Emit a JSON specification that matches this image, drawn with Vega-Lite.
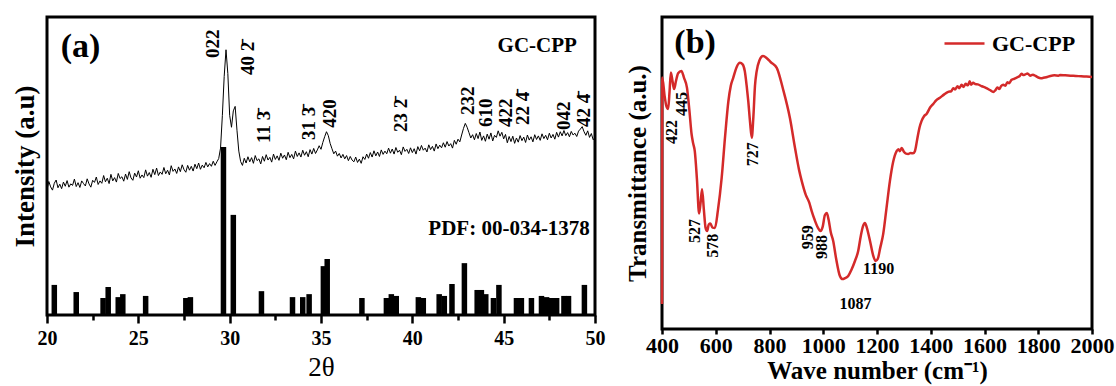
{
  "$schema": "https://vega.github.io/schema/vega-lite/v6.json",
  "padding": {"left": 9, "top": 15, "right": 0, "bottom": 0},
  "config": {
    "font": "Liberation Serif",
    "view": {"stroke": "black", "strokeWidth": 3},
    "axis": {"grid": false, "domain": false, "labelColor": "black", "titleColor": "black", "tickColor": "black", "labelFont": "Liberation Serif", "titleFont": "Liberation Serif"},
    "text": {"font": "Liberation Serif", "fontWeight": "bold", "color": "black"}
  },
  "datasets": {
    "xrd": [
      {"x":20.0,"y":42.1},{"x":20.1,"y":44.8},{"x":20.2,"y":43.0},{"x":20.3,"y":41.9},{"x":20.4,"y":44.2},{"x":20.5,"y":45.3},{"x":20.6,"y":42.7},{"x":20.7,"y":43.9},{"x":20.8,"y":42.4},{"x":20.9,"y":44.6},
      {"x":21.0,"y":43.2},{"x":21.1,"y":45.1},{"x":21.2,"y":42.9},{"x":21.3,"y":44.0},{"x":21.4,"y":43.5},{"x":21.5,"y":45.6},{"x":21.6,"y":43.1},{"x":21.7,"y":44.4},{"x":21.8,"y":42.8},{"x":21.9,"y":45.0},
      {"x":22.0,"y":44.1},{"x":22.1,"y":43.3},{"x":22.2,"y":45.7},{"x":22.3,"y":44.0},{"x":22.4,"y":42.9},{"x":22.5,"y":45.2},{"x":22.6,"y":44.5},{"x":22.7,"y":46.3},{"x":22.8,"y":43.8},{"x":22.9,"y":45.0},
      {"x":23.0,"y":44.2},{"x":23.1,"y":46.8},{"x":23.2,"y":44.7},{"x":23.3,"y":45.9},{"x":23.4,"y":44.1},{"x":23.5,"y":47.2},{"x":23.6,"y":45.0},{"x":23.7,"y":46.1},{"x":23.8,"y":44.6},{"x":23.9,"y":47.5},
      {"x":24.0,"y":45.8},{"x":24.1,"y":46.4},{"x":24.2,"y":44.9},{"x":24.3,"y":47.3},{"x":24.4,"y":45.5},{"x":24.5,"y":48.1},{"x":24.6,"y":46.0},{"x":24.7,"y":45.2},{"x":24.8,"y":47.6},{"x":24.9,"y":46.3},
      {"x":25.0,"y":48.4},{"x":25.1,"y":45.9},{"x":25.2,"y":47.0},{"x":25.3,"y":46.1},{"x":25.4,"y":48.7},{"x":25.5,"y":46.6},{"x":25.6,"y":47.8},{"x":25.7,"y":46.2},{"x":25.8,"y":48.9},{"x":25.9,"y":47.1},
      {"x":26.0,"y":49.3},{"x":26.1,"y":46.8},{"x":26.2,"y":48.0},{"x":26.3,"y":47.2},{"x":26.4,"y":49.5},{"x":26.5,"y":47.4},{"x":26.6,"y":48.6},{"x":26.7,"y":47.0},{"x":26.8,"y":50.1},{"x":26.9,"y":48.2},
      {"x":27.0,"y":49.0},{"x":27.1,"y":47.5},{"x":27.2,"y":49.7},{"x":27.3,"y":48.1},{"x":27.4,"y":50.4},{"x":27.5,"y":48.8},{"x":27.6,"y":47.9},{"x":27.7,"y":50.2},{"x":27.8,"y":48.6},{"x":27.9,"y":49.9},
      {"x":28.0,"y":48.3},{"x":28.1,"y":50.6},{"x":28.2,"y":49.1},{"x":28.3,"y":51.0},{"x":28.4,"y":48.9},{"x":28.5,"y":50.3},{"x":28.6,"y":49.4},{"x":28.7,"y":51.2},{"x":28.8,"y":49.7},{"x":28.9,"y":50.8},
      {"x":29.0,"y":49.9},{"x":29.1,"y":51.6},{"x":29.2,"y":50.2},{"x":29.3,"y":51.4},{"x":29.4,"y":52.5},{"x":29.5,"y":56.0},{"x":29.6,"y":67.0},{"x":29.7,"y":80.0},{"x":29.8,"y":89.0},{"x":29.9,"y":81.0},
      {"x":30.0,"y":67.0},{"x":30.1,"y":63.0},{"x":30.2,"y":68.5},{"x":30.3,"y":70.0},{"x":30.4,"y":62.0},{"x":30.5,"y":55.0},{"x":30.6,"y":51.5},{"x":30.7,"y":50.2},{"x":30.8,"y":52.6},{"x":30.9,"y":51.0},
      {"x":31.0,"y":53.1},{"x":31.1,"y":51.4},{"x":31.2,"y":52.8},{"x":31.3,"y":50.9},{"x":31.4,"y":53.5},{"x":31.5,"y":51.8},{"x":31.6,"y":52.4},{"x":31.7,"y":50.7},{"x":31.8,"y":53.2},{"x":31.9,"y":51.6},
      {"x":32.0,"y":53.8},{"x":32.1,"y":52.0},{"x":32.2,"y":52.9},{"x":32.3,"y":51.3},{"x":32.4,"y":54.0},{"x":32.5,"y":52.2},{"x":32.6,"y":53.4},{"x":32.7,"y":51.9},{"x":32.8,"y":54.3},{"x":32.9,"y":52.6},
      {"x":33.0,"y":53.7},{"x":33.1,"y":52.1},{"x":33.2,"y":54.6},{"x":33.3,"y":52.8},{"x":33.4,"y":53.9},{"x":33.5,"y":52.4},{"x":33.6,"y":55.0},{"x":33.7,"y":53.2},{"x":33.8,"y":54.4},{"x":33.9,"y":53.0},
      {"x":34.0,"y":55.3},{"x":34.1,"y":53.6},{"x":34.2,"y":54.8},{"x":34.3,"y":53.1},{"x":34.4,"y":55.5},{"x":34.5,"y":54.0},{"x":34.6,"y":55.9},{"x":34.7,"y":54.2},{"x":34.8,"y":55.4},{"x":34.9,"y":56.8},
      {"x":35.0,"y":55.6},{"x":35.1,"y":57.9},{"x":35.2,"y":59.8},{"x":35.3,"y":61.5},{"x":35.4,"y":60.2},{"x":35.5,"y":57.6},{"x":35.6,"y":55.8},{"x":35.7,"y":54.1},{"x":35.8,"y":55.0},{"x":35.9,"y":53.3},
      {"x":36.0,"y":54.2},{"x":36.1,"y":52.7},{"x":36.2,"y":53.9},{"x":36.3,"y":52.4},{"x":36.4,"y":53.5},{"x":36.5,"y":51.8},{"x":36.6,"y":53.2},{"x":36.7,"y":52.0},{"x":36.8,"y":51.4},{"x":36.9,"y":53.0},
      {"x":37.0,"y":51.2},{"x":37.1,"y":52.3},{"x":37.2,"y":50.9},{"x":37.3,"y":53.1},{"x":37.4,"y":52.2},{"x":37.5,"y":54.0},{"x":37.6,"y":52.6},{"x":37.7,"y":54.5},{"x":37.8,"y":53.0},{"x":37.9,"y":55.1},
      {"x":38.0,"y":53.4},{"x":38.1,"y":54.7},{"x":38.2,"y":53.2},{"x":38.3,"y":55.4},{"x":38.4,"y":53.9},{"x":38.5,"y":55.0},{"x":38.6,"y":54.1},{"x":38.7,"y":56.0},{"x":38.8,"y":54.3},{"x":38.9,"y":55.7},
      {"x":39.0,"y":54.0},{"x":39.1,"y":56.2},{"x":39.2,"y":54.6},{"x":39.3,"y":55.3},{"x":39.4,"y":53.8},{"x":39.5,"y":56.4},{"x":39.6,"y":54.9},{"x":39.7,"y":55.6},{"x":39.8,"y":54.2},{"x":39.9,"y":56.1},
      {"x":40.0,"y":54.5},{"x":40.1,"y":55.8},{"x":40.2,"y":54.0},{"x":40.3,"y":56.5},{"x":40.4,"y":55.1},{"x":40.5,"y":56.9},{"x":40.6,"y":55.3},{"x":40.7,"y":56.0},{"x":40.8,"y":54.7},{"x":40.9,"y":57.1},
      {"x":41.0,"y":55.5},{"x":41.1,"y":56.6},{"x":41.2,"y":55.0},{"x":41.3,"y":57.4},{"x":41.4,"y":55.8},{"x":41.5,"y":57.0},{"x":41.6,"y":56.1},{"x":41.7,"y":57.8},{"x":41.8,"y":56.3},{"x":41.9,"y":58.2},
      {"x":42.0,"y":56.7},{"x":42.1,"y":57.5},{"x":42.2,"y":56.0},{"x":42.3,"y":58.6},{"x":42.4,"y":57.3},{"x":42.5,"y":59.0},{"x":42.6,"y":58.1},{"x":42.7,"y":60.4},{"x":42.8,"y":62.6},{"x":42.9,"y":64.3},
      {"x":43.0,"y":63.0},{"x":43.1,"y":61.2},{"x":43.2,"y":59.4},{"x":43.3,"y":60.5},{"x":43.4,"y":58.8},{"x":43.5,"y":60.9},{"x":43.6,"y":59.2},{"x":43.7,"y":61.4},{"x":43.8,"y":58.6},{"x":43.9,"y":60.1},
      {"x":44.0,"y":58.3},{"x":44.1,"y":60.7},{"x":44.2,"y":59.0},{"x":44.3,"y":61.1},{"x":44.4,"y":58.4},{"x":44.5,"y":60.3},{"x":44.6,"y":59.6},{"x":44.7,"y":61.8},{"x":44.8,"y":60.0},{"x":44.9,"y":61.3},
      {"x":45.0,"y":59.1},{"x":45.1,"y":60.6},{"x":45.2,"y":57.8},{"x":45.3,"y":59.9},{"x":45.4,"y":58.2},{"x":45.5,"y":60.0},{"x":45.6,"y":57.6},{"x":45.7,"y":59.4},{"x":45.8,"y":58.0},{"x":45.9,"y":60.2},
      {"x":46.0,"y":58.5},{"x":46.1,"y":59.7},{"x":46.2,"y":57.9},{"x":46.3,"y":60.4},{"x":46.4,"y":58.7},{"x":46.5,"y":59.8},{"x":46.6,"y":58.1},{"x":46.7,"y":60.5},{"x":46.8,"y":58.9},{"x":46.9,"y":60.1},
      {"x":47.0,"y":58.6},{"x":47.1,"y":60.8},{"x":47.2,"y":59.2},{"x":47.3,"y":60.3},{"x":47.4,"y":58.8},{"x":47.5,"y":61.0},{"x":47.6,"y":59.4},{"x":47.7,"y":60.6},{"x":47.8,"y":59.0},{"x":47.9,"y":61.3},
      {"x":48.0,"y":59.7},{"x":48.1,"y":61.5},{"x":48.2,"y":60.1},{"x":48.3,"y":61.9},{"x":48.4,"y":60.2},{"x":48.5,"y":61.2},{"x":48.6,"y":59.8},{"x":48.7,"y":61.6},{"x":48.8,"y":60.4},{"x":48.9,"y":61.0},
      {"x":49.0,"y":59.9},{"x":49.1,"y":61.7},{"x":49.2,"y":62.4},{"x":49.3,"y":63.2},{"x":49.4,"y":61.5},{"x":49.5,"y":60.3},{"x":49.6,"y":61.8},{"x":49.7,"y":59.6},{"x":49.8,"y":60.9},{"x":49.9,"y":58.8},
      {"x":50.0,"y":59.5}
    ],
    "pdf": [
      {"x":20.4,"y":10.1},{"x":21.6,"y":7.7},{"x":23.07,"y":5.7},{"x":23.35,"y":9.4},{"x":23.9,"y":6.0},{"x":24.15,"y":7.0},{"x":25.4,"y":6.4},{"x":27.6,"y":5.7},{"x":27.85,"y":6.0},{"x":29.66,"y":56.4},{"x":30.2,"y":33.6},{"x":31.74,"y":8.0},{"x":33.44,"y":6.0},{"x":34.0,"y":6.0},{"x":34.35,"y":7.0},{"x":35.13,"y":16.4},{"x":35.34,"y":18.8},{"x":37.24,"y":5.7},{"x":38.58,"y":5.7},{"x":38.85,"y":7.0},{"x":39.12,"y":6.4},{"x":40.33,"y":6.0},{"x":40.6,"y":5.7},{"x":41.47,"y":7.0},{"x":41.75,"y":6.4},{"x":42.17,"y":10.4},{"x":42.85,"y":17.4},{"x":43.55,"y":8.4},{"x":43.78,"y":8.4},{"x":44.02,"y":7.0},{"x":44.44,"y":5.7},{"x":44.74,"y":10.1},{"x":45.7,"y":5.7},{"x":45.97,"y":5.7},{"x":46.52,"y":5.7},{"x":47.07,"y":6.4},{"x":47.35,"y":6.0},{"x":47.62,"y":5.7},{"x":47.9,"y":5.7},{"x":48.3,"y":6.4},{"x":48.55,"y":6.4},{"x":49.42,"y":10.1}
    ],
    "hkl": [
      {"x":29.09,"y":86.2,"label":"022"},
      {"x":31.0,"y":80.5,"label":"40 2̄"},
      {"x":31.88,"y":57.7,"label":"11 3̄"},
      {"x":34.34,"y":58.7,"label":"31 3̄"},
      {"x":35.49,"y":62.8,"label":"420"},
      {"x":39.38,"y":61.4,"label":"23 2̄"},
      {"x":43.04,"y":67.1,"label":"232"},
      {"x":44.03,"y":63.1,"label":"610"},
      {"x":45.12,"y":63.1,"label":"422"},
      {"x":46.05,"y":63.8,"label":"22 4̄"},
      {"x":48.3,"y":62.1,"label":"042"},
      {"x":49.39,"y":63.1,"label":"42 4̄"}
    ],
    "ftir": [
      {"x":400,"y":8},{"x":401,"y":80.6},{"x":410,"y":74.5},{"x":416,"y":71.5},{"x":423,"y":70.5},{"x":428,"y":76},{"x":433,"y":82.2},{"x":439,"y":79.5},{"x":445,"y":76.9},{"x":452,"y":79.5},{"x":460,"y":82},{"x":472,"y":82.7},{"x":482,"y":80.5},{"x":493,"y":77.3},{"x":502,"y":70},{"x":510,"y":62.5},{"x":516,"y":59.5},{"x":522,"y":57},{"x":530,"y":48},{"x":538,"y":37},{"x":543,"y":40},{"x":549,"y":44.8},{"x":556,"y":38},{"x":562,"y":32.5},{"x":568,"y":31.4},{"x":574,"y":33.5},{"x":580,"y":33.8},{"x":588,"y":32.5},{"x":597,"y":32.4},{"x":608,"y":38},{"x":622,"y":48.4},{"x":635,"y":62},{"x":647,"y":73},{"x":656,"y":78},{"x":665,"y":80.5},{"x":678,"y":84},{"x":690,"y":85.3},{"x":700,"y":84.8},{"x":708,"y":82.7},{"x":715,"y":78},{"x":721,"y":73},{"x":728,"y":66},{"x":734,"y":61.3},{"x":740,"y":68},{"x":746,"y":78},{"x":752,"y":82.5},{"x":762,"y":86},{"x":776,"y":87.5},{"x":790,"y":86.8},{"x":805,"y":85.5},{"x":827,"y":83.7},{"x":850,"y":77},{"x":876,"y":67.6},{"x":895,"y":58},{"x":910,"y":51},{"x":920,"y":47.4},{"x":935,"y":43},{"x":948,"y":40.5},{"x":957,"y":37.8},{"x":968,"y":35},{"x":980,"y":32.5},{"x":990,"y":31.4},{"x":998,"y":32.8},{"x":1006,"y":36.5},{"x":1013,"y":37.2},{"x":1020,"y":35},{"x":1028,"y":31},{"x":1037,"y":28.2},{"x":1048,"y":22.5},{"x":1062,"y":17},{"x":1072,"y":16},{"x":1081,"y":16.3},{"x":1093,"y":17},{"x":1105,"y":19},{"x":1118,"y":21.8},{"x":1130,"y":25},{"x":1140,"y":30},{"x":1148,"y":33},{"x":1155,"y":34},{"x":1162,"y":32.5},{"x":1174,"y":28.2},{"x":1186,"y":23.5},{"x":1195,"y":21.8},{"x":1203,"y":22.5},{"x":1212,"y":26},{"x":1223,"y":30.4},{"x":1235,"y":38.5},{"x":1248,"y":47.4},{"x":1260,"y":53.5},{"x":1273,"y":57},{"x":1280,"y":57.6},{"x":1285,"y":57},{"x":1292,"y":58},{"x":1300,"y":56.8},{"x":1308,"y":56.2},{"x":1316,"y":56.1},{"x":1325,"y":56.4},{"x":1334,"y":56.3},{"x":1341,"y":57},{"x":1350,"y":61},{"x":1358,"y":64.5},{"x":1366,"y":66.7},{"x":1375,"y":68.2},{"x":1385,"y":69},{"x":1397,"y":70.9},{"x":1410,"y":72.2},{"x":1420,"y":73.3},{"x":1434,"y":74.1},{"x":1450,"y":75.2},{"x":1465,"y":76},{"x":1476,"y":76.2},{"x":1484,"y":77.2},{"x":1490,"y":76.8},{"x":1500,"y":77.8},{"x":1506,"y":77.2},{"x":1515,"y":78.3},{"x":1522,"y":77.6},{"x":1530,"y":78.6},{"x":1538,"y":78.1},{"x":1545,"y":79.4},{"x":1550,"y":78.3},{"x":1558,"y":78.9},{"x":1565,"y":78.5},{"x":1575,"y":78.4},{"x":1590,"y":77.8},{"x":1605,"y":77.3},{"x":1620,"y":76.6},{"x":1633,"y":76},{"x":1640,"y":76.5},{"x":1648,"y":77.4},{"x":1655,"y":76.9},{"x":1662,"y":77.9},{"x":1670,"y":78.3},{"x":1678,"y":78},{"x":1685,"y":79.1},{"x":1692,"y":78.8},{"x":1700,"y":79.8},{"x":1710,"y":80.2},{"x":1720,"y":80.6},{"x":1730,"y":81},{"x":1738,"y":81.8},{"x":1744,"y":81.4},{"x":1752,"y":81.6},{"x":1760,"y":81.9},{"x":1770,"y":81.2},{"x":1780,"y":81.5},{"x":1790,"y":81.1},{"x":1800,"y":80.6},{"x":1810,"y":80.4},{"x":1819,"y":80.5},{"x":1830,"y":80.7},{"x":1845,"y":81.1},{"x":1860,"y":81.3},{"x":1875,"y":81.2},{"x":1881,"y":81.4},{"x":1900,"y":81.3},{"x":1920,"y":81.2},{"x":1940,"y":81.1},{"x":1960,"y":81},{"x":1980,"y":80.9},{"x":2000,"y":80.8}
    ],
    "ftirPeaks": [
      {"x":436,"y":59.3,"label":"422"},
      {"x":473,"y":68.3,"label":"445"},
      {"x":523,"y":27.6,"label":"527"},
      {"x":591,"y":22.8,"label":"578"},
      {"x":740,"y":52.2,"label":"727"},
      {"x":944,"y":25.6,"label":"959"},
      {"x":994,"y":22.4,"label":"988"}
    ],
    "ftirFlat": [
      {"x":1120,"y":6.4,"label":"1087"},
      {"x":1206,"y":17.6,"label":"1190"}
    ]
  },
  "hconcat": [
    {
      "width": 548,
      "height": 298,
      "encoding": {
        "x": {"field": "x", "type": "quantitative", "scale": {"domain": [20, 50], "nice": false, "zero": false, "padding": 0},
          "axis": {"title": "2θ", "titleFontSize": 27, "titleFontWeight": "normal", "titlePadding": 6,
            "values": [20, 22.5, 25, 27.5, 30, 32.5, 35, 37.5, 40, 42.5, 45, 47.5, 50],
            "labelExpr": "datum.value % 5 == 0 ? format(datum.value, 'd') : ''",
            "labelFontSize": 20, "labelFontWeight": "bold", "labelPadding": 5, "labelFlush": false,
            "tickWidth": 2.5, "tickSize": {"condition": {"test": "datum.value % 5 == 0", "value": 8}, "value": 5}}},
        "y": {"field": "y", "type": "quantitative", "scale": {"domain": [0, 100], "nice": false},
          "axis": {"title": "Intensity (a.u)", "titleFontSize": 27, "titleFontWeight": "bold", "titlePadding": 8, "labels": false, "ticks": false}}
      },
      "layer": [
        {"data": {"name": "xrd"}, "mark": {"type": "line", "color": "black", "strokeWidth": 1}},
        {"data": {"name": "pdf"}, "mark": {"type": "bar", "color": "black", "size": 5.5}},
        {"data": {"name": "hkl"}, "mark": {"type": "text", "angle": 270, "align": "left", "baseline": "middle", "fontSize": 19}, "encoding": {"text": {"field": "label"}}},
        {"data": {"values": [{"x": 20.75, "y": 86.6, "label": "(a)"}]}, "mark": {"type": "text", "align": "left", "baseline": "alphabetic", "fontSize": 34}, "encoding": {"text": {"field": "label"}}},
        {"data": {"values": [{"x": 49.01, "y": 88.3, "label": "GC-CPP"}, {"x": 49.72, "y": 26.8, "label": "PDF: 00-034-1378"}]}, "mark": {"type": "text", "align": "right", "baseline": "alphabetic", "fontSize": 21}, "encoding": {"text": {"field": "label"}}}
      ]
    },
    {
      "width": 430,
      "height": 312,
      "encoding": {
        "x": {"field": "x", "type": "quantitative", "scale": {"domain": [400, 2000], "nice": false, "zero": false},
          "axis": {"title": "Wave number (cm⁻¹)", "titleFontSize": 25, "titleFontWeight": "bold", "titlePadding": 2,
            "values": [400, 600, 800, 1000, 1200, 1400, 1600, 1800, 2000], "format": "d",
            "labelFontSize": 22, "labelFontWeight": "bold", "labelPadding": 1, "labelFlush": false,
            "tickWidth": 2.5, "tickSize": 5}},
        "y": {"field": "y", "type": "quantitative", "scale": {"domain": [0, 100], "nice": false},
          "axis": {"title": "Transmittance (a.u.)", "titleFontSize": 25, "titleFontWeight": "bold", "titlePadding": 12, "labels": false, "ticks": false}}
      },
      "layer": [
        {"data": {"name": "ftir"}, "transform": [{"calculate": "'GC-CPP'", "as": "series"}],
          "mark": {"type": "line", "strokeWidth": 2.5, "interpolate": "monotone"},
          "encoding": {"color": {"field": "series", "type": "nominal", "scale": {"range": ["#d42a2a"]},
            "legend": {"title": null, "orient": "none", "legendX": 896, "legendY": 5, "padding": 0, "symbolType": "stroke", "symbolSize": 1600, "symbolStrokeWidth": 2.5, "labelFontSize": 22, "labelFontWeight": "bold", "labelFont": "Liberation Serif", "labelColor": "black", "labelOffset": 6}}}},
        {"data": {"name": "ftirPeaks"}, "mark": {"type": "text", "angle": 270, "align": "left", "baseline": "middle", "fontSize": 16}, "encoding": {"text": {"field": "label"}}},
        {"data": {"name": "ftirFlat"}, "mark": {"type": "text", "align": "center", "baseline": "alphabetic", "fontSize": 16}, "encoding": {"text": {"field": "label"}}},
        {"data": {"values": [{"x": 446, "y": 88.5, "label": "(b)"}]}, "mark": {"type": "text", "align": "left", "baseline": "alphabetic", "fontSize": 34}, "encoding": {"text": {"field": "label"}}}
      ]
    }
  ],
  "spacing": 16
}
